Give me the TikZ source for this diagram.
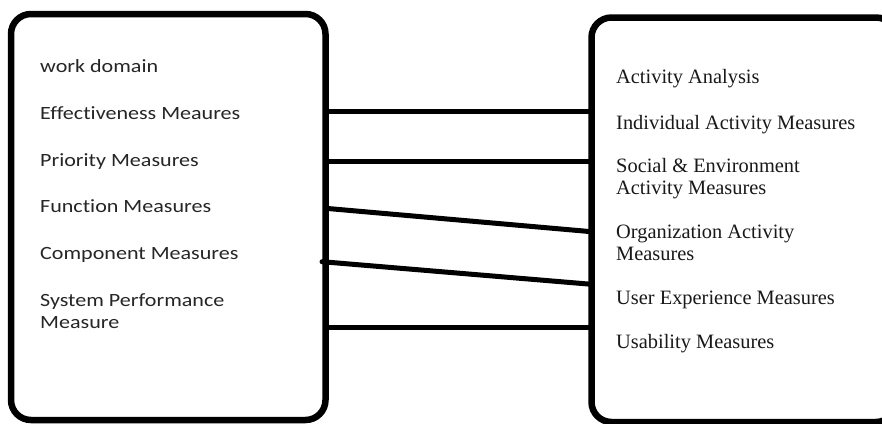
\documentclass[tikz,border=0pt]{standalone}
\usepackage{fontspec}
\newfontfamily\calib[FakeStretch=1.18,Ligatures=CommonOff]{Carlito}
\newfontfamily\tms{Liberation Serif}
\begin{document}
\begin{tikzpicture}[x=1pt,y=-1pt,
  box/.style={draw, line width=6.5pt, rounded corners=20pt, outer sep=0pt, inner sep=0pt},
  link/.style={line width=5pt, line cap=round},
  ltext/.style={anchor=base west, inner sep=0pt, text=black!85, font=\calib\fontsize{18.7}{22}\selectfont},
  rtext/.style={anchor=base west, inner sep=0pt, text=black!90, font=\tms\fontsize{20.4}{23}\selectfont}]
\clip (0,0) rectangle (882,423);
\fill[white] (0,0) rectangle (882,423);
\node[box, minimum width=314.5pt, minimum height=406pt] (L) at (168.25,217) {};
\node[box, minimum width=304.5pt, minimum height=404.5pt] (R) at (743.75,219.75) {};
% left texts
\node[ltext] (wd) at (40,72) {work domain};
\node[ltext] (eff) at (40,119) {Effectiveness Meaures};
\node[ltext] (pri) at (40,166) {Priority Measures};
\node[ltext] (fun) at (40,212.5) {Function Measures};
\node[ltext] (com) at (40,259) {Component Measures};
\node[ltext] (sys1) at (40,306.5) {System Performance};
\node[ltext] (sys2) at (40,328.5) {Measure};
% right texts
\node[rtext] (aa) at (616,83) {Activity Analysis};
\node[rtext] (ind) at (616,129) {Individual Activity Measures};
\node[rtext] (soc1) at (616,172) {Social \& Environment};
\node[rtext] (soc2) at (616,194.5) {Activity Measures};
\node[rtext] (org1) at (616,238) {Organization Activity};
\node[rtext] (org2) at (616,260.5) {Measures};
\node[rtext] (ux) at (616,304) {User Experience Measures};
\node[rtext] (us) at (616,348.5) {Usability Measures};
% connector end points on the box borders
\coordinate (a1) at (L.east |- 0,111.7);
\coordinate (b1) at (R.west |- 0,111.7);
\coordinate (a2) at (L.east |- 0,161.7);
\coordinate (b2) at (R.west |- 0,161.7);
\coordinate (a3) at (L.east |- 0,208.3);
\coordinate (b3) at (R.west |- 0,231.7);
\coordinate (a4) at (322,261.7);
\coordinate (b4) at (R.west |- 0,284.3);
\coordinate (a5) at (L.east |- 0,327.3);
\coordinate (b5) at (R.west |- 0,327.3);
\draw[link] (a1) -- (b1);
\draw[link] (a2) -- (b2);
\draw[link] (a3) -- (b3);
\draw[link] (a4) -- (b4);
\draw[link] (a5) -- (b5);
\end{tikzpicture}
\end{document}
